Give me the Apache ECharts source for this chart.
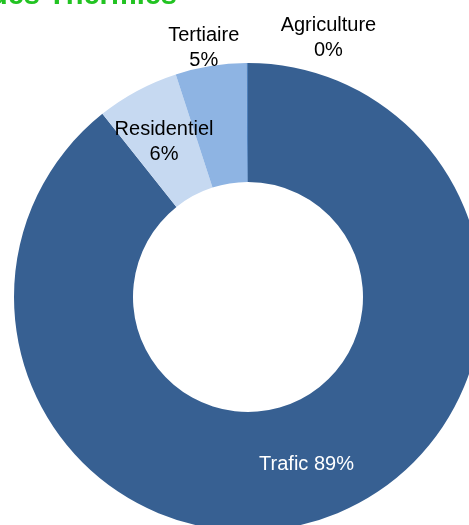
<!DOCTYPE html>
<html><head><meta charset="utf-8">
<script src="https://cdn.jsdelivr.net/npm/echarts@6/dist/echarts.min.js"></script>
<style>html,body{margin:0;padding:0;background:#fff}#c{width:469px;height:525px}</style>
</head><body><div id="c"></div>
<script>
const categories = ['Trafic', 'Residentiel', 'Tertiaire', 'Agriculture'];
const values = [89.4, 5.7, 4.9, 0.1];
const percentLabels = ['89%', '6%', '5%', '0%'];
const colors = ['#376092', '#C6D9F1', '#8EB4E3', '#4F81BD'];
const titleText = 'Répartition des Thermies';

const chart = echarts.init(document.getElementById('c'));
const labelShift = { 1: [0, 1], 2: [-16, -74], 3: [81, -82] };
chart.setOption({
  animation: false,
  graphic: [{
    type: 'text', x: 177, y: 10, z: 100,
    style: { text: titleText, font: 'bold 29px "Liberation Sans", Arial', fill: '#22C322', align: 'right', verticalAlign: 'bottom' }
  }],
  series: [{
    type: 'pie',
    center: [248, 297],
    radius: [115, 234],
    startAngle: 90,
    clockwise: true,
    avoidLabelOverlap: false,
    itemStyle: { borderWidth: 0 },
    label: {
      position: 'inside',
      fontFamily: '"Liberation Sans", Arial',
      fontSize: 20,
      lineHeight: 25,
      color: '#000'
    },
    labelLine: { show: false },
    labelLayout: function (p) {
      const s = labelShift[p.dataIndex];
      return s ? { dx: s[0], dy: s[1] } : {};
    },
    emphasis: { disabled: true },
    data: categories.map((c, i) => ({
      name: c,
      value: values[i],
      itemStyle: { color: colors[i] },
      label: {
        formatter: i === 0 ? c + ' ' + percentLabels[i] : c + '\n' + percentLabels[i],
        color: i === 0 ? '#fff' : '#000'
      }
    }))
  }]
});
</script></body></html>
